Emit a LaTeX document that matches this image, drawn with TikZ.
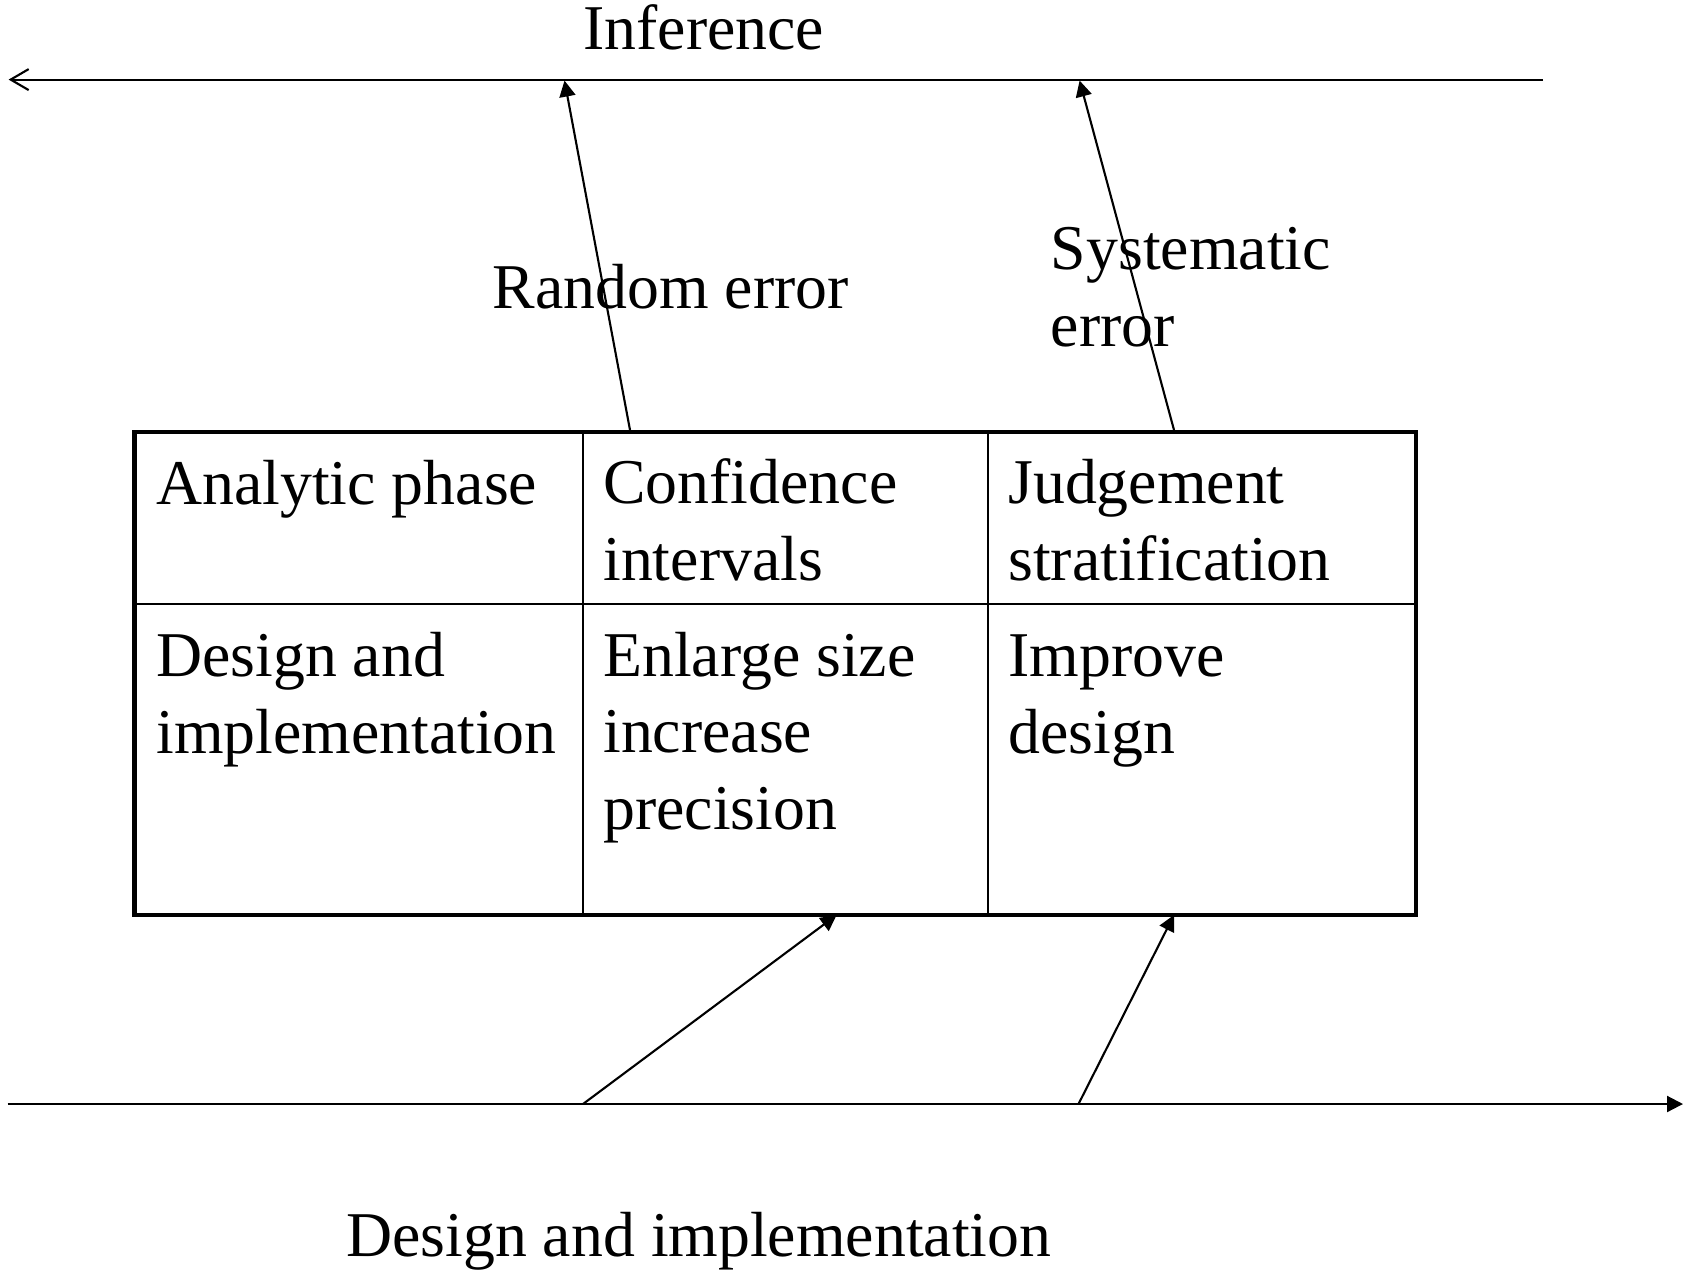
\documentclass[tikz,border=0pt]{standalone}
\usepackage{fontspec}
\setmainfont{Liberation Serif}
\usetikzlibrary{arrows.meta}

\begin{document}
\begin{tikzpicture}[x=0.02cm, y=-0.02cm,
    lbl/.style={anchor=base west, inner sep=0pt, align=left,
      font=\fontsize{36.3}{43.3}\selectfont},
    axis/.style={line width=1.2pt},
    err/.style={line width=1.2pt, -{Triangle[length=0.32cm,width=0.32cm]}}]
  \useasboundingbox (0,0) rectangle (1686,1271);

  % axes
  \coordinate (infL) at (8.6,79.6);
  \coordinate (infR) at (1543,79.6);
  \coordinate (desL) at (7.5,1104);
  \coordinate (desR) at (1683,1104);
  \draw[axis, -{Straight Barb[length=0.36cm,width=0.42cm]}] (infR) -- (infL);
  \draw[axis, -{Triangle[length=0.32cm,width=0.32cm]}] (desL) -- (desR);
  \node[lbl] (inference) at (583,50) {Inference};
  \node[lbl] (design) at (346,1256) {Design and implementation};

  % table (base of a multi-line label = its last line)
  \draw[line width=1.2pt] (583,432) -- (583,915);
  \draw[line width=1.2pt] (988,432) -- (988,915);
  \draw[line width=1.2pt] (134.4,604) -- (1416,604);
  \draw[line width=2.8pt] (134.4,432) rectangle (1416,915);

  \node[lbl] (analytic) at (156,504) {Analytic phase};
  \node[lbl] (confid) at (603,580) {Confidence\\intervals};
  \node[lbl] (judge) at (1008,580) {Judgement\\stratification};
  \node[lbl] (implem) at (156,753) {Design and\\implementation};
  \node[lbl] (enlarge) at (603,829) {Enlarge size\\increase\\precision};
  \node[lbl] (improve) at (1008,753) {Improve\\design};

  % error arrows
  \coordinate (rndS) at (630,430);
  \coordinate (rndE) at (564.5,80.6);
  \coordinate (sysS) at (1174,430);
  \coordinate (sysE) at (1079.6,80.6);
  \draw[err] (rndS) -- (rndE);
  \draw[err] (sysS) -- (sysE);
  \node[lbl] (random) at (492.5,308.6) {Random error};
  \node[lbl] (system) at (1050.6,346) {Systematic\\error};

  \coordinate (bA) at (583,1104);
  \coordinate (bAE) at (836.6,915);
  \coordinate (bB) at (1078.5,1104);
  \coordinate (bBE) at (1174,915);
  \draw[err] (bA) -- (bAE);
  \draw[err] (bB) -- (bBE);
\end{tikzpicture}
\end{document}
